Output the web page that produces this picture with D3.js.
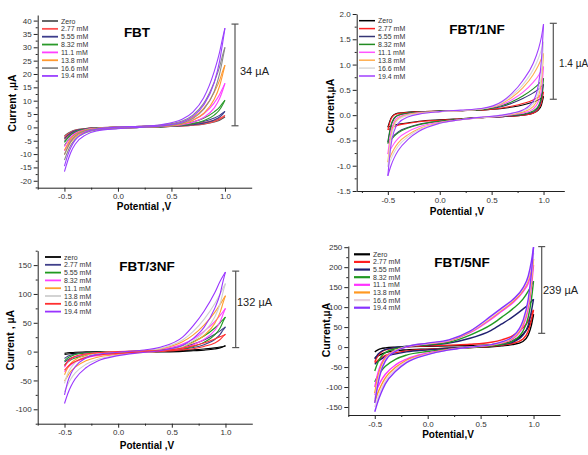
<!DOCTYPE html>
<html><head><meta charset="utf-8">
<script src="https://cdn.jsdelivr.net/npm/d3@7"></script>
<style>body{margin:0;background:#fff}svg{display:block}</style>
</head><body><svg id="c" width="588" height="455"></svg>
<script>
// Potential grid (V) shared by all curves
const E = [-0.5,-0.47,-0.44,-0.4,-0.3,-0.2,0,0.2,0.4,0.6,0.7,0.8,0.9,0.95,0.98,1.0];

// ---- FBT ----
const fbtLabels = ["Zero","2.77 mM","5.55 mM","8.32 mM","11.1 mM","13.8 mM","16.6 mM","19.4 mM"];
const fbtFwd = [
 [-3.2,-2.3,-1.6,-1.0,-0.4,-0.1,0.1,0.3,0.5,0.8,1.1,1.6,2.4,3.0,3.6,4.0],
 [-3.6,-2.6,-1.8,-1.1,-0.4,-0.1,0.1,0.3,0.5,0.8,1.2,1.8,2.7,3.4,4.0,4.5],
 [-4.2,-3.0,-2.1,-1.3,-0.5,-0.2,0.1,0.3,0.5,0.9,1.4,2.2,3.5,4.5,5.4,6.0],
 [-5.6,-4.0,-2.8,-1.7,-0.6,-0.2,0.1,0.3,0.6,1.2,2.0,3.4,5.8,7.6,9.2,10.2],
 [-7.2,-5.2,-3.6,-2.2,-0.8,-0.3,0.1,0.3,0.7,1.6,2.8,5.0,9.2,12.3,14.8,16.5],
 [-8.6,-6.2,-4.3,-2.7,-1.0,-0.4,0.1,0.4,0.8,2.0,3.7,7.0,13.2,17.6,21.2,23.3],
 [-10.2,-7.4,-5.2,-3.3,-1.2,-0.5,0.1,0.4,0.9,2.4,4.6,8.9,17.0,22.7,27.3,30.0],
 [-14.5,-10.5,-7.5,-4.8,-1.7,-0.7,0.1,0.4,1.0,3.0,5.7,11.0,21.0,28.2,33.8,37.2]];
const fbtRev = [
 [-4.0,-3.0,-2.2,-1.5,-0.7,-0.4,-0.2,0.0,0.2,0.5,0.8,1.2,2.0,2.7,3.4,4.0],
 [-4.5,-3.4,-2.5,-1.7,-0.8,-0.4,-0.2,0.0,0.2,0.5,0.8,1.3,2.2,3.0,3.8,4.5],
 [-5.2,-3.9,-2.8,-1.9,-0.9,-0.5,-0.2,0.0,0.2,0.6,1.0,1.6,2.8,3.9,5.0,6.0],
 [-6.8,-5.1,-3.7,-2.5,-1.1,-0.6,-0.3,0.0,0.2,0.8,1.4,2.5,4.6,6.6,8.6,10.2],
 [-8.8,-6.6,-4.8,-3.2,-1.4,-0.7,-0.3,0.0,0.3,1.0,1.9,3.7,7.3,10.8,14.0,16.5],
 [-10.2,-7.6,-5.5,-3.7,-1.7,-0.8,-0.3,0.0,0.3,1.3,2.6,5.2,10.5,15.5,20.0,23.3],
 [-12.2,-9.1,-6.6,-4.5,-2.0,-1.0,-0.4,0.0,0.4,1.6,3.3,6.7,13.5,20.0,25.8,30.0],
 [-16.6,-12.6,-9.3,-6.3,-2.8,-1.3,-0.5,0.0,0.5,2.0,4.1,8.3,16.8,24.8,32.0,37.2]];
const fbtColors = ["#555555","#ff5050","#3c3c8c","#2a9a2a","#ff40ff","#ff9a30","#8a8a8a","#9a40ff"];

// ---- FBT/1NF ----
const nf1Labels = ["Zero","2.77 mM","5.55 mM","8.32 mM","11.1 mM","13.8 mM","16.6 mM","19.4 mM"];
const nf1Fwd = [
 [-0.24,-0.06,0.01,0.04,0.06,0.07,0.08,0.09,0.1,0.13,0.16,0.2,0.26,0.3,0.34,0.37],
 [-0.29,-0.08,0.0,0.03,0.05,0.07,0.08,0.09,0.1,0.14,0.18,0.23,0.3,0.36,0.41,0.46],
 [-0.53,-0.2,-0.06,0.0,0.04,0.06,0.08,0.09,0.11,0.17,0.24,0.33,0.44,0.51,0.57,0.61],
 [-0.56,-0.22,-0.07,0.0,0.04,0.06,0.08,0.09,0.11,0.19,0.27,0.38,0.52,0.61,0.68,0.73],
 [-0.77,-0.33,-0.13,-0.04,0.02,0.05,0.07,0.09,0.12,0.21,0.31,0.45,0.65,0.78,0.89,0.96],
 [-0.93,-0.42,-0.18,-0.07,0.01,0.04,0.07,0.09,0.12,0.23,0.36,0.54,0.8,0.98,1.12,1.22],
 [-1.02,-0.48,-0.22,-0.09,0.0,0.03,0.07,0.09,0.12,0.25,0.4,0.6,0.9,1.12,1.3,1.45],
 [-1.2,-0.6,-0.32,-0.16,-0.03,0.02,0.07,0.1,0.13,0.27,0.44,0.68,1.02,1.3,1.55,1.8]];
const nf1Rev = [
 [-0.24,-0.22,-0.2,-0.18,-0.15,-0.12,-0.09,-0.07,-0.05,-0.03,-0.02,0.0,0.04,0.1,0.2,0.37],
 [-0.29,-0.26,-0.23,-0.2,-0.16,-0.13,-0.1,-0.07,-0.05,-0.03,-0.02,0.0,0.04,0.12,0.25,0.46],
 [-0.53,-0.46,-0.4,-0.33,-0.24,-0.18,-0.12,-0.08,-0.05,-0.03,-0.01,0.01,0.06,0.15,0.32,0.61],
 [-0.56,-0.49,-0.42,-0.35,-0.25,-0.19,-0.12,-0.08,-0.05,-0.02,0.0,0.02,0.08,0.18,0.38,0.73],
 [-0.77,-0.66,-0.56,-0.46,-0.32,-0.23,-0.14,-0.09,-0.05,-0.02,0.01,0.04,0.12,0.27,0.5,0.96],
 [-0.93,-0.79,-0.67,-0.55,-0.38,-0.27,-0.15,-0.09,-0.05,-0.01,0.02,0.06,0.17,0.36,0.68,1.22],
 [-1.02,-0.87,-0.74,-0.61,-0.42,-0.29,-0.16,-0.09,-0.05,-0.01,0.03,0.08,0.22,0.45,0.82,1.45],
 [-1.2,-1.0,-0.85,-0.7,-0.47,-0.32,-0.16,-0.09,-0.04,0.0,0.04,0.1,0.28,0.6,1.1,1.8]];
const nf1Colors = ["#000000","#ff2020","#353575","#228b22","#ff55ff","#ffae50","#d8d8d8","#a040ff"];

// ---- FBT/3NF ----
const nf3Labels = ["zero","2.77 mM","5.55 mM","8.32 mM","11.1 mM","13.8 mM","16.6 mM","19.4 mM"];
const nf3Fwd = [
 [-3,-2,-1.5,-1,-0.5,0,0,0.5,1,2,3,4.5,6.5,8,9,10],
 [-12,-8,-6,-4,-2,-1,0,1,3,8,13,20,30,36,40,43],
 [-16,-11,-8,-5,-2.5,-1,0,1,3,10,17,27,41,50,56,60],
 [-27,-18,-13,-9,-4,-2,0,1,4,13,22,35,52,63,70,75],
 [-40,-28,-20,-14,-6,-3,0,1,5,17,29,46,68,82,91,97],
 [-55,-38,-28,-19,-8,-4,-1,1,6,20,35,56,83,100,111,118],
 [-25,-17,-12,-8,-4,-2,0,1,2,6,10,15,22,26,28,30],
 [-75,-52,-38,-26,-11,-5,-1,2,8,25,45,70,102,122,132,138]];
const nf3Rev = [
 [-5,-4,-3.5,-3,-2.5,-2,-1.5,-1,-0.5,0.5,1.5,2.5,4.5,6.5,8.5,10],
 [-18,-14,-11,-9,-6,-4,-2,-1,1,4,7,12,21,30,38,43],
 [-23,-18,-14,-11,-7,-5,-3,-1,1,5,9,16,29,41,53,60],
 [-35,-28,-23,-18,-11,-7,-4,-1,1,6,12,21,37,52,66,75],
 [-51,-42,-34,-27,-16,-10,-5,-2,1,8,16,28,49,68,86,97],
 [-70,-57,-47,-37,-22,-14,-6,-2,1,9,19,34,60,83,105,118],
 [-32,-26,-21,-17,-10,-6,-3,-1,0.5,3,5,9,15,21,27,30],
 [-90,-73,-60,-47,-28,-17,-7,-2,2,11,23,42,75,100,124,138]];
const nf3Colors = ["#000000","#40408a","#1f9a1f","#ff40ff","#ffa030","#cfcfcf","#ff3030","#9933ff"];

// ---- FBT/5NF ----
const nf5Labels = ["Zero","2.77 mM","5.55 mM","8.32 mM","11.1 mM","13.8 mM","16.6 mM","19.4 mM"];
const nf5Fwd = [
 [-12,-7,-4,-2,0,1,2,3,4,6,9,15,32,50,68,82],
 [-37,-22,-13,-7,-2,1,3,5,7,12,18,28,48,65,82,93],
 [-30,-18,-11,-6,-1,2,5,10,22,42,58,75,95,106,114,120],
 [-60,-38,-24,-14,-4,1,6,12,30,56,75,95,120,140,155,165],
 [-100,-65,-42,-25,-8,0,8,15,36,70,90,110,138,160,185,205],
 [-115,-75,-48,-28,-8,1,9,16,38,73,93,113,142,168,196,220],
 [-130,-85,-55,-32,-9,1,9,17,39,75,95,116,145,172,205,235],
 [-140,-92,-60,-35,-10,1,10,18,40,78,98,118,148,178,215,250]];
const nf5Rev = [
 [-27,-22,-18,-14,-9,-7,-5,-3,-1,1,3,6,14,30,55,82],
 [-40,-33,-27,-21,-14,-10,-6,-3,-1,2,5,9,20,40,68,93],
 [-43,-36,-30,-24,-17,-12,-7,-3,0,3,6,12,30,55,90,120],
 [-87,-72,-60,-48,-30,-20,-11,-5,-1,3,7,15,40,75,120,165],
 [-120,-100,-84,-68,-44,-30,-15,-6,0,5,10,20,52,95,150,205],
 [-137,-114,-96,-77,-50,-33,-17,-6,0,5,11,22,58,105,163,220],
 [-150,-126,-106,-85,-55,-36,-18,-7,0,6,12,24,62,112,175,235],
 [-162,-136,-115,-92,-60,-39,-19,-7,0,6,13,26,66,120,185,250]];
const nf5Colors = ["#000000","#ff2020","#202070","#229922","#ff33ff","#ff9922","#e6cfdc","#8833ff"];

// tick values
const xMajor = [-0.5,0,0.5,1.0];
const xMinor = [-0.75,-0.25,0.25,0.75];
const yMajor1 = [-20,-15,-10,-5,0,5,10,15,20,25,30,35,40];
const yMajor2 = [-1.5,-1.0,-0.5,0.0,0.5,1.0,1.5,2.0];
const yMajor3 = [-100,-50,0,50,100,150];
const yMajor4 = [-150,-100,-50,0,50,100,150,200,250];

const FONT = "Liberation Sans, Arial, sans-serif";
const svg = d3.select("#c");

const panels = [
 {title:"FBT", fwd:fbtFwd, rev:fbtRev, labels:fbtLabels, colors:fbtColors,
  xd:[-0.75,1.25], xr:[37.7,251.7], yd:[-22.6,42.1], yr:[187.7,15],
  yMaj:yMajor1, yMin:d3.range(-22.5,42.5,2.5), yFmt:d=>String(d), yLab:"Current ,\u00b5A",
  xLab:"Potential ,V", yLabPos:[12,103], xLabPos:[144,206], titlePos:[137,32], legX:42, legY:21, legDy:7.85,
  bracket:{x:235, y0:0.6, y1:38.7, text:"34 \u00b5A", tx:240, ty:71, fs:11}, lw:1.1, legW:1.8},
 {title:"FBT/1NF", fwd:nf1Fwd, rev:nf1Rev, labels:nf1Labels, colors:nf1Colors,
  xd:[-0.8,1.2], xr:[356.7,564.3], yd:[-1.5,2.0], yr:[191,14],
  yMaj:yMajor2, yMin:d3.range(-1.25,2.0,0.5), yFmt:d=>d.toFixed(1), yLab:"Current,\u00b5A",
  xLab:"Potential ,V", yLabPos:[330,106], xLabPos:[457,211], titlePos:[477,29], legX:359, legY:20.7, legDy:7.9,
  bracket:{x:553.3, y0:0.314, y1:1.816, text:"1.4 \u00b5A", tx:559, ty:63.5, fs:10}, lw:1.1, legW:1.5},
 {title:"FBT/3NF", fwd:nf3Fwd, rev:nf3Rev, labels:nf3Labels, colors:nf3Colors,
  xd:[-0.75,1.25], xr:[37.7,252.3], yd:[-125,175], yr:[423.7,250.7],
  yMaj:yMajor3, yMin:d3.range(-125,176,25), yFmt:d=>String(d), yLab:"Current , \u00b5A",
  xLab:"Potential ,V", yLabPos:[10,340], xLabPos:[147,445], titlePos:[147,266], legX:45, legY:257, legDy:7.8,
  bracket:{x:235.7, y0:7, y1:139.6, text:"132 \u00b5A", tx:237, ty:301.7, fs:11}, lw:1.1, legW:1.8},
 {title:"FBT/5NF", fwd:nf5Fwd, rev:nf5Rev, labels:nf5Labels, colors:nf5Colors,
  xd:[-0.75,1.25], xr:[348.3,560], yd:[-170,253], yr:[415,246],
  yMaj:yMajor4, yMin:d3.range(-175,251,25), yFmt:d=>String(d), yLab:"Current,\u00b5A",
  xLab:"Potential,V", yLabPos:[326,330], xLabPos:[448,434.5], titlePos:[462,262], legX:354, legY:254.3, legDy:7.63,
  bracket:{x:541.7, y0:34.4, y1:251.5, text:"239 \u00b5A", tx:543, ty:290, fs:11}, lw:1.4, legW:2.2}
];

panels.forEach(p => {
  const g = svg.append("g");
  const x = d3.scaleLinear().domain(p.xd).range(p.xr);
  const y = d3.scaleLinear().domain(p.yd).range(p.yr);
  const yMinor = p.yMin.filter(v => v >= p.yd[0] && v <= p.yd[1] && !p.yMaj.some(m => Math.abs(m - v) < 1e-9));

  // curves
  const line = d3.line().x(d => x(d[0])).y(d => y(d[1])).curve(d3.curveMonotoneX);
  const cg = g.append("g").attr("fill","none").attr("stroke-width",p.lw);
  p.fwd.forEach((vals, i) => {
    cg.append("path").attr("stroke", p.colors[i]).attr("d", line(vals.map((v,j)=>[E[j],v])));
    cg.append("path").attr("stroke", p.colors[i]).attr("d", line(p.rev[i].map((v,j)=>[E[j],v])));
  });

  // axes
  g.append("g").attr("transform",`translate(0,${p.yr[0]})`)
    .call(d3.axisBottom(x).tickValues(xMajor).tickFormat(d=>d.toFixed(1)).tickSize(4).tickPadding(2).tickSizeOuter(0));
  g.append("g").attr("transform",`translate(0,${p.yr[0]})`)
    .call(d3.axisBottom(x).tickValues(xMinor.filter(v=>v>=p.xd[0])).tickFormat("").tickSize(2).tickSizeOuter(0))
    .select(".domain").remove();
  g.append("g").attr("transform",`translate(${p.xr[0]},0)`)
    .call(d3.axisLeft(y).tickValues(p.yMaj).tickFormat(p.yFmt).tickSize(4).tickPadding(2).tickSizeOuter(0));
  g.append("g").attr("transform",`translate(${p.xr[0]},0)`)
    .call(d3.axisLeft(y).tickValues(yMinor).tickFormat("").tickSize(2).tickSizeOuter(0))
    .select(".domain").remove();
  g.selectAll(".tick text").attr("font-family",FONT).attr("font-size",8).attr("fill","#333");
  g.selectAll("path.domain, .tick line").attr("stroke","#222").attr("stroke-width",1);

  // axis labels
  g.append("text").attr("transform",`translate(${p.yLabPos[0]},${p.yLabPos[1]}) rotate(-90)`)
    .attr("text-anchor","middle").attr("dominant-baseline","central")
    .attr("font-family",FONT).attr("font-weight","bold").attr("font-size",10.5).text(p.yLab);
  g.append("text").attr("x",p.xLabPos[0]).attr("y",p.xLabPos[1])
    .attr("text-anchor","middle").attr("dominant-baseline","central")
    .attr("font-family",FONT).attr("font-weight","bold").attr("font-size",10).text(p.xLab);

  // title
  g.append("text").attr("x",p.titlePos[0]).attr("y",p.titlePos[1])
    .attr("text-anchor","middle").attr("dominant-baseline","central")
    .attr("font-family",FONT).attr("font-weight","bold").attr("font-size",13.5).text(p.title);

  // legend
  const lg = g.append("g");
  p.labels.forEach((lab, i) => {
    const yy = p.legY + i * p.legDy;
    lg.append("line").attr("x1",p.legX).attr("x2",p.legX+16).attr("y1",yy).attr("y2",yy)
      .attr("stroke",p.colors[i]).attr("stroke-width",p.legW);
    lg.append("text").attr("x",p.legX+19).attr("y",yy).attr("dominant-baseline","central")
      .attr("font-family",FONT).attr("font-size",7).attr("fill","#333").text(lab);
  });

  // bracket
  const b = p.bracket;
  const by0 = y(b.y0), by1 = y(b.y1);
  const bg = g.append("g").attr("stroke","#555").attr("stroke-width",1.2);
  bg.append("line").attr("x1",b.x).attr("x2",b.x).attr("y1",by0).attr("y2",by1);
  bg.append("line").attr("x1",b.x-3.5).attr("x2",b.x+3.5).attr("y1",by0).attr("y2",by0);
  bg.append("line").attr("x1",b.x-3.5).attr("x2",b.x+3.5).attr("y1",by1).attr("y2",by1);
  g.append("text").attr("x",b.tx).attr("y",b.ty).attr("dominant-baseline","central")
    .attr("font-family",FONT).attr("font-size",b.fs).attr("fill","#222").text(b.text);
});
</script></body></html>
